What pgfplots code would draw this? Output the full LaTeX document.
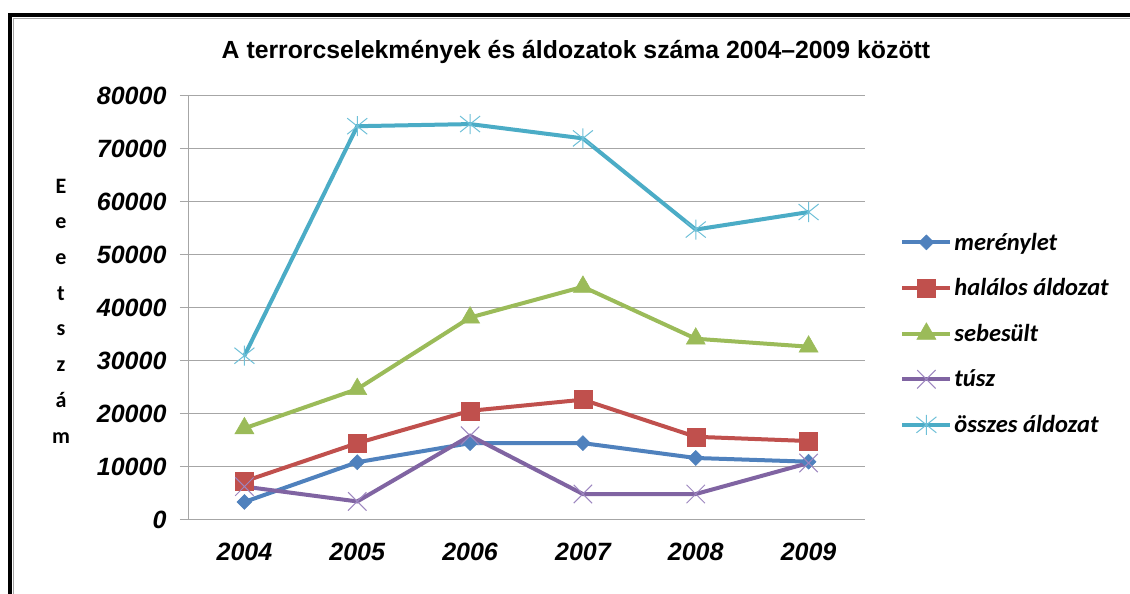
\documentclass[border=0pt]{standalone}
\usepackage{fontspec}
\setmainfont{Liberation Sans}
\newfontfamily\calibri{Carlito}
\usepackage{pgfplots}
\pgfplotsset{compat=1.18}
\definecolor{cblue}{HTML}{4F81BD}
\definecolor{cred}{HTML}{C0504D}
\definecolor{cgreen}{HTML}{9BBB59}
\definecolor{cpurple}{HTML}{8064A2}
\definecolor{ccyan}{HTML}{4BACC6}
\definecolor{cpurplel}{HTML}{9D86C0}
\definecolor{ccyanl}{HTML}{6EC0D8}
\definecolor{gridgray}{HTML}{A6A6A6}
\pgfdeclareplotmark{xstar}{%
  \pgfpathmoveto{\pgfqpoint{-\pgfplotmarksize}{-0.8\pgfplotmarksize}}%
  \pgfpathlineto{\pgfqpoint{\pgfplotmarksize}{0.8\pgfplotmarksize}}%
  \pgfpathmoveto{\pgfqpoint{-\pgfplotmarksize}{0.8\pgfplotmarksize}}%
  \pgfpathlineto{\pgfqpoint{\pgfplotmarksize}{-0.8\pgfplotmarksize}}%
  \pgfpathmoveto{\pgfqpoint{0pt}{-\pgfplotmarksize}}%
  \pgfpathlineto{\pgfqpoint{0pt}{\pgfplotmarksize}}%
  \pgfusepathqstroke}
\begin{document}
\begin{tikzpicture}[x=1pt,y=1pt]
\useasboundingbox (0,0) rectangle (1130,594);
\fill[white] (0,0) rectangle (1130,594);
% frame
\draw[black, line width=4pt] (9.5,0) -- (9.5,579) -- (1130,579);
\draw[gridgray, line width=1pt] (13.5,0) -- (13.5,575.5) -- (1130,575.5);
% title
\node[font=\fontsize{24.8}{28}\selectfont\bfseries] at (576,542) {A terrorcselekmények és áldozatok száma 2004–2009 között};
% y label
\node[font={\calibri\fontsize{22}{35.7}\selectfont\bfseries}, align=center] at (61,283) {E\\e\\e\\t\\s\\z\\á\\m};
\begin{axis}[
  at={(188pt,74pt)}, anchor=south west,
  scale only axis, width=677pt, height=424pt,
  xmin=-0.5, xmax=5.5, ymin=0, ymax=80000,
  axis x line*=bottom, axis y line*=left,
  axis line style={gridgray, line width=1pt},
  xtick={0,...,5},
  xticklabels={2004,2005,2006,2007,2008,2009},
  xtick style={draw=none},
  minor xtick={-0.5,0.5,...,5.5},
  minor tick length=8pt,
  minor tick style={gridgray, line width=1pt},
  ytick={0,10000,...,80000},
  major tick length=8pt,
  ytick style={gridgray, line width=1pt},
  tick align=outside,
  ymajorgrids, grid style={gridgray, line width=1pt},
  scaled y ticks=false,
  /pgf/number format/assume math mode=true,
  /pgf/number format/set thousands separator={},
  ticklabel style={font=\fontsize{25}{28}\selectfont\bfseries\itshape},
  xticklabel style={yshift=-12pt},
  yticklabel style={xshift=-10pt},
  clip=false,
  legend cell align=left,
  legend style={draw=none, fill=none, at={(1.052,0.682)}, anchor=north west,
    font=\calibri\fontsize{24.5}{28}\selectfont\bfseries\itshape, row sep=23pt, inner sep=0pt},
  legend image code/.code={\draw[mark repeat=2,mark phase=2,#1] plot coordinates {(0pt,0pt)(24pt,0pt)(48pt,0pt)};},
  every axis plot/.append style={line width=4pt},
]
\addplot[cblue, mark=square*, mark size=5.3pt, mark options={rotate=45, line width=0.5pt}] coordinates {(0,3400)(1,10900)(2,14500)(3,14500)(4,11700)(5,11000)};
\addlegendentry{merénylet}
\addplot[cred, mark=square*, mark size=9pt, mark options={line width=0.5pt}] coordinates {(0,7300)(1,14500)(2,20600)(3,22700)(4,15700)(5,14900)};
\addlegendentry{halálos áldozat}
\addplot[cgreen, mark=triangle*, mark size=11pt, mark options={line width=0.5pt}] coordinates {(0,17300)(1,24700)(2,38200)(3,44000)(4,34200)(5,32700)};
\addlegendentry{sebesült}
\addplot[cpurple, mark=x, mark size=13pt, mark options={cpurplel, line width=1pt}] coordinates {(0,6300)(1,3500)(2,15900)(3,4900)(4,4900)(5,10750)};
\addlegendentry{túsz}
\addplot[ccyan, mark=xstar, mark size=10pt, mark options={ccyanl, line width=1pt}] coordinates {(0,31000)(1,74300)(2,74700)(3,72000)(4,54800)(5,58100)};
\addlegendentry{összes áldozat}
\end{axis}
\end{tikzpicture}
\end{document}
